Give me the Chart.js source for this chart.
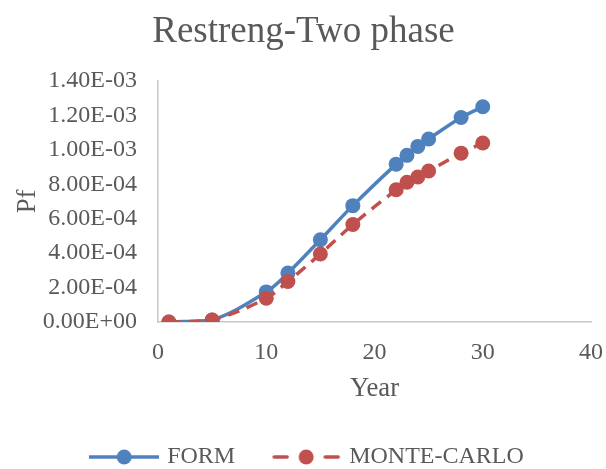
<!DOCTYPE html>
<html>
<head>
<meta charset="utf-8">
<script src="https://cdn.jsdelivr.net/npm/chart.js@4"></script>
<style>
  body { margin: 0; background: #fff; }
  canvas { display: block; }
</style>
</head>
<body>
<canvas id="chart" width="606" height="469"></canvas>
<script>
const years = [1, 5, 10, 12, 15, 18, 22, 23, 24, 25, 28, 30];
const formPf = [0, 1.2e-5, 1.75e-4, 2.84e-4, 4.78e-4, 6.76e-4, 9.17e-4, 9.68e-4, 1.02e-3, 1.063e-3, 1.188e-3, 1.25e-3];
const monteCarloPf = [0, 1.2e-5, 1.38e-4, 2.35e-4, 3.95e-4, 5.66e-4, 7.68e-4, 8.12e-4, 8.42e-4, 8.77e-4, 9.81e-4, 1.04e-3];
const xTicks = [0, 10, 20, 30, 40];
const yTicks = [0, 2e-4, 4e-4, 6e-4, 8e-4, 1e-3, 1.2e-3, 1.4e-3];

const BLUE = "#4f81bd";
const RED = "#c0504d";
const TEXT = "#595959";
const AXIS = "#c8c8c8";
const FONT = "'Liberation Serif', 'Times New Roman', serif";

// Excel-like number format 0.00E+00
const sci = (v) => {
  if (v === 0) return "0.00E+00";
  let exp = Math.floor(Math.log10(Math.abs(v)));
  let mant = v / Math.pow(10, exp);
  if (Math.round(mant * 100) / 100 >= 10) { mant /= 10; exp += 1; }
  const sign = exp < 0 ? "-" : "+";
  return mant.toFixed(2) + "E" + sign + String(Math.abs(exp)).padStart(2, "0");
};

// legend symbol: line (or two dashes) with a dot in the middle
const legendSymbol = (color, dashed) => {
  const c = document.createElement("canvas");
  c.width = 70;
  c.height = 20;
  const g = c.getContext("2d");
  g.strokeStyle = color;
  g.fillStyle = color;
  g.lineWidth = 3.5;
  g.beginPath();
  if (dashed) {
    g.lineCap = "round";
    g.moveTo(3, 10); g.lineTo(16, 10);
    g.moveTo(54, 10); g.lineTo(67, 10);
  } else {
    g.moveTo(0, 10); g.lineTo(70, 10);
  }
  g.stroke();
  g.beginPath();
  g.arc(35, 10, 7.5, 0, Math.PI * 2);
  g.fill();
  return c;
};

const toPoints = (ys) => years.map((x, i) => ({ x: x, y: ys[i] }));

// nudge the legend: a bit less height, slightly to the right
const legendTweak = {
  id: "legendTweak",
  afterInit(chart) {
    const lg = chart.legend;
    const fit = lg.fit;
    lg.fit = function () {
      fit.call(this);
      this.height -= 10;
    };
  },
  afterLayout(chart) {
    chart.legend.left += 5;
    chart.legend.right += 5;
  },
};

new Chart(document.getElementById("chart"), {
  type: "scatter",
  data: {
    datasets: [
      {
        label: "FORM",
        data: toPoints(formPf),
        showLine: true,
        borderColor: BLUE,
        backgroundColor: BLUE,
        borderWidth: 3.5,
        pointRadius: 7.5,
        pointHoverRadius: 7.5,
        pointBorderWidth: 0,
        tension: 0.35,
        order: 1,
      },
      {
        label: "MONTE-CARLO",
        data: toPoints(monteCarloPf),
        showLine: true,
        borderColor: RED,
        backgroundColor: RED,
        borderWidth: 3.5,
        borderDash: [12, 8],
        pointRadius: 7.5,
        pointHoverRadius: 7.5,
        pointBorderWidth: 0,
        tension: 0.35,
        order: 0,
      },
    ],
  },
  plugins: [legendTweak],
  options: {
    responsive: false,
    animation: false,
    layout: { padding: { left: 3, right: 2, top: 0, bottom: 0 } },
    plugins: {
      title: {
        display: true,
        text: "Restreng-Two phase",
        color: TEXT,
        font: { family: FONT, size: 37, weight: "normal" },
        padding: { top: 10, bottom: 26.6 },
      },
      legend: {
        position: "bottom",
        labels: {
          color: TEXT,
          font: { family: FONT, size: 24 },
          usePointStyle: true,
          pointStyleWidth: 62,
          padding: 40,
          generateLabels: (chart) =>
            chart.data.datasets.map((ds, i) => ({
              text: ds.label,
              fontColor: TEXT,
              pointStyle: legendSymbol(ds.borderColor, i === 1),
              datasetIndex: i,
              hidden: false,
              lineWidth: 0,
            })),
        },
      },
      tooltip: { enabled: false },
    },
    scales: {
      x: {
        type: "linear",
        min: 0,
        max: 40,
        afterBuildTicks: (scale) => { scale.ticks = xTicks.map((v) => ({ value: v })); },
        afterFit: (scale) => {
          scale.height = 83;
          scale.paddingLeft = 0;
          scale.paddingRight = 15;
        },
        grid: { display: false, drawTicks: false },
        border: { display: true, color: AXIS, width: 1.5 },
        ticks: {
          color: TEXT,
          font: { family: FONT, size: 24 },
          padding: 16,
          maxRotation: 0,
        },
        title: {
          display: true,
          text: "Year",
          color: TEXT,
          font: { family: FONT, size: 26.7 },
          padding: { top: 0, bottom: 0 },
        },
      },
      y: {
        min: 0,
        max: 1.4e-3,
        afterBuildTicks: (scale) => { scale.ticks = yTicks.map((v) => ({ value: v })); },
        afterFit: (scale) => { scale.width = 155; },
        grid: { display: false, drawTicks: false },
        border: { display: true, color: AXIS, width: 1.5 },
        ticks: {
          color: TEXT,
          font: { family: FONT, size: 24 },
          padding: 21,
          callback: (v) => sci(v),
        },
        title: {
          display: true,
          text: "Pf",
          color: TEXT,
          font: { family: FONT, size: 26.7 },
          padding: { top: 9, bottom: 0 },
        },
      },
    },
  },
});
</script>
</body>
</html>
